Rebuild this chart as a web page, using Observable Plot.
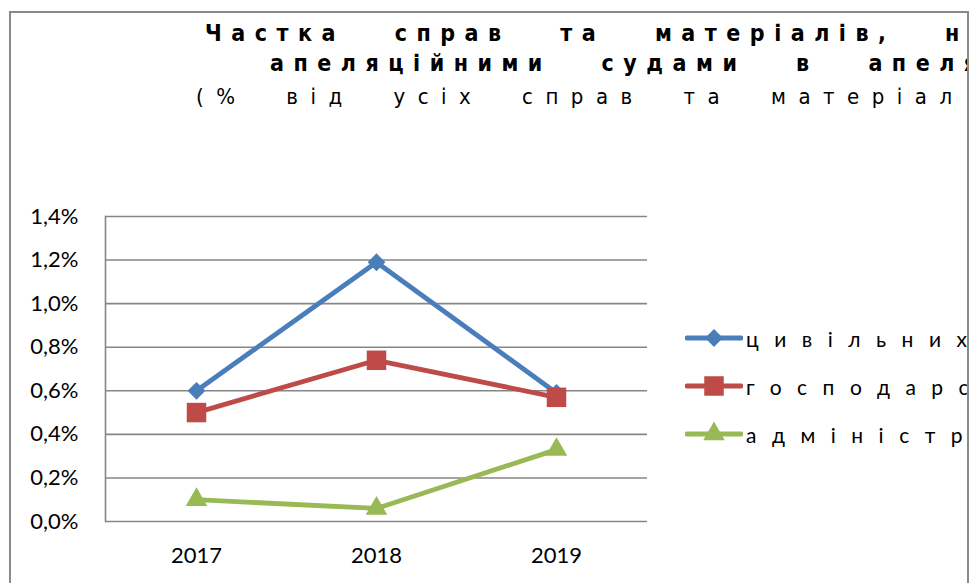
<!DOCTYPE html>
<html>
<head>
<meta charset="utf-8">
<script src="https://cdn.jsdelivr.net/npm/d3@7"></script>
<script src="https://cdn.jsdelivr.net/npm/@observablehq/plot@0.6"></script>
<style>
  html, body { margin: 0; padding: 0; background: #fff; overflow: hidden; }
  #wrap { position: relative; width: 974px; height: 583px; overflow: hidden; background: #fff; }
  #frame { position: absolute; left: 9px; top: 11px; width: 960px; height: 640px; border: 2px solid #8a8a8a; box-sizing: border-box; }
  #clip { position: absolute; left: 11px; top: 13px; width: 956px; height: 570px; overflow: hidden; }
  .t { position: absolute; white-space: pre; color: #000; line-height: 1; }
  .title { font-family: "Liberation Sans Narrow", "DejaVu Sans Condensed", "Liberation Sans", sans-serif; font-stretch: condensed; font-weight: bold; font-size: 23px; letter-spacing: 9.5px; word-spacing: 33px; }
  .sub { font-family: "Liberation Sans Narrow", "DejaVu Sans Condensed", "Liberation Sans", sans-serif; font-stretch: condensed; font-weight: normal; font-size: 22px; letter-spacing: 12.5px; word-spacing: 20px; }
  .leg { position: absolute; display: flex; align-items: center; white-space: pre; font-family: Lato, "Open Sans", sans-serif; font-size: 21px; letter-spacing: 15.5px; }
  .leg svg { flex: none; margin-right: 3px; }
  #plot { position: absolute; left: 0; top: 0; }
</style>
</head>
<body>
<div id="wrap">
  <div id="plot"></div>
  <div id="frame"></div>
  <div id="clip"></div>
</div>
<script>
const years = ["2017", "2018", "2019"];
const seriesNames = ["цивільних", "господарських", "адміністративних"];
const civil = [0.60, 1.19, 0.59];
const commercial = [0.50, 0.74, 0.57];
const administrative = [0.10, 0.06, 0.33];
const seriesColors = ["#4a7ebb", "#be4b48", "#98b954"];
const seriesSymbols = ["diamond2", "square", "triangle"];
const seriesRadius = [8, 11, 8];
const yTicks = [0, 0.2, 0.4, 0.6, 0.8, 1.0, 1.2, 1.4];
const titleLines = ["Частка справ та матеріалів, н", "апеляційними судами в апеля"];
const subtitleText = "(% від усіх справ та матеріал";

const seriesValues = [civil, commercial, administrative];
const data = [];
seriesNames.forEach((s, i) => years.forEach((y, j) => data.push({series: s, year: y, value: seriesValues[i][j]})));

const fmt = d => d.toFixed(1).replace(".", ",") + "%";

const marks = [
  Plot.gridY(yTicks, {stroke: "#868686", strokeOpacity: 1, strokeWidth: 1.6}),
  Plot.frame({anchor: "left", stroke: "#868686", strokeWidth: 1.6}),
  Plot.axisY(yTicks, {tickSize: 0, tickPadding: 27, tickFormat: fmt, fontSize: 22, fill: "#000"}),
  Plot.axisX({tickSize: 0, tickPadding: 26, fontSize: 22, fill: "#000"})
];
seriesNames.forEach((s, i) => {
  const d = data.filter(r => r.series === s);
  marks.push(Plot.line(d, {x: "year", y: "value", stroke: seriesColors[i], strokeWidth: 4.8}));
  marks.push(Plot.dot(d, {x: "year", y: "value", symbol: seriesSymbols[i], r: seriesRadius[i], fill: seriesColors[i], stroke: "none"}));
});

const chart = Plot.plot({
  width: 974,
  height: 583,
  marginLeft: 105,
  marginRight: 327,
  marginTop: 216,
  marginBottom: 62,
  style: {fontFamily: "Lato, 'Open Sans', sans-serif", background: "transparent"},
  x: {type: "point", domain: years, padding: 0.5, label: null},
  y: {domain: [0, 1.4], label: null},
  marks
});
document.getElementById("plot").appendChild(chart);

// Title & subtitle (clipped by the chart frame like the original)
const clip = document.getElementById("clip");
const addText = (txt, cls, x, y) => {
  const el = document.createElement("div");
  el.className = "t " + cls;
  el.textContent = txt;
  el.style.left = (x - 11) + "px";
  el.style.top = (y - 13) + "px";
  clip.appendChild(el);
};
addText(titleLines[0], "title", 205, 22);
addText(titleLines[1], "title", 270, 52);
addText(subtitleText, "sub", 196, 86);

// Legend
const legTop = [338, 386, 434];
seriesNames.forEach((s, i) => {
  const row = document.createElement("div");
  row.className = "leg";
  row.style.left = (685 - 11) + "px";
  row.style.top = (legTop[i] - 13 - 14) + "px";
  row.style.height = "28px";
  const svg = d3.create("svg").attr("width", 58).attr("height", 28);
  svg.append("line").attr("x1", 2).attr("x2", 56).attr("y1", 14).attr("y2", 14)
    .attr("stroke", seriesColors[i]).attr("stroke-width", 4.8).attr("stroke-linecap", "round");
  const symMap = {diamond2: d3.symbolDiamond2, square: d3.symbolSquare, triangle: d3.symbolTriangle};
  svg.append("path").attr("transform", "translate(29,14)")
    .attr("d", d3.symbol(symMap[seriesSymbols[i]], Math.PI * seriesRadius[i] * seriesRadius[i])())
    .attr("fill", seriesColors[i]);
  row.appendChild(svg.node());
  const span = document.createElement("span");
  span.textContent = s;
  row.appendChild(span);
  clip.appendChild(row);
});
</script>
</body>
</html>
